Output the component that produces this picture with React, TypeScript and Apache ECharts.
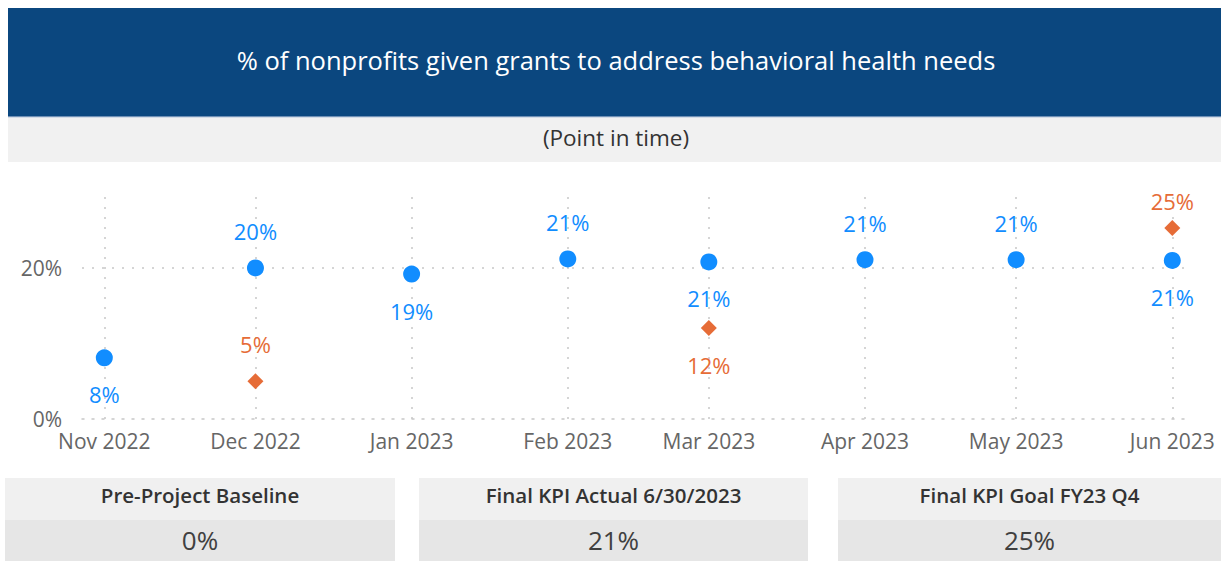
import React, { useEffect, useRef } from "react";
import * as echarts from "echarts";

const titleText = "% of nonprofits given grants to address behavioral health needs";
const subtitleText = "(Point in time)";

const months = ["2022-11-01", "2022-12-01", "2023-01-01", "2023-02-01", "2023-03-01", "2023-04-01", "2023-05-01", "2023-06-01"];
const actualValues = [8.1, 20.0, 19.2, 21.2, 20.8, 21.1, 21.1, 21.0];
const actualLabelPos = ["bottom", "top", "bottom", "top", "bottom", "top", "top", "bottom"];

const goalMonths = ["2022-12-01", "2023-03-01", "2023-06-01"];
const goalValues = [5.0, 12.05, 25.3];
const goalLabelPos = ["top", "bottom", "top"];

const yTicks = [0, 20];

const cardTitles = ["Pre-Project Baseline", "Final KPI Actual 6/30/2023", "Final KPI Goal FY23 Q4"];
const cardValues = ["0%", "21%", "25%"];

const monthNames = ["Jan", "Feb", "Mar", "Apr", "May", "Jun", "Jul", "Aug", "Sep", "Oct", "Nov", "Dec"];

const DAY = 86400000;
function toTime(s: string): number {
  const [y, m, d] = s.split("-").map(Number);
  return new Date(y, m - 1, d).getTime();
}

const FONT = "'Segoe UI', 'Open Sans', sans-serif";
const BLUE = "#118DFF";
const ORANGE = "#E66C37";

export default function App() {
  const ref = useRef<HTMLDivElement>(null);

  useEffect(() => {
    if (!ref.current) return;
    const chart = echarts.init(ref.current, undefined, { renderer: "svg" });

    const xMin = toTime(months[0]) - 4.43 * DAY;
    const xMax = toTime(months[months.length - 1]) + 3.91 * DAY;

    const cards = [
      { x: 5, w: 390 },
      { x: 419, w: 389 },
      { x: 838, w: 383 },
    ];

    const graphics: any[] = [
      { type: "rect", left: 8, top: 8, shape: { width: 1213, height: 109 }, style: { fill: "#0B477F" }, z: 0 },
      { type: "rect", left: 8, top: 116, shape: { width: 1213, height: 1.5 }, style: { fill: "#6F90B6" }, z: 0 },
      { type: "rect", left: 8, top: 117.5, shape: { width: 1213, height: 44.5 }, style: { fill: "#F1F1F1" }, z: 0 },
      {
        type: "text", x: 616, y: 60, z: 2,
        style: { text: titleText, fill: "#FFFFFF", font: `25.5px ${FONT}`, align: "center", verticalAlign: "middle" },
      },
      {
        type: "text", x: 616, y: 137, z: 2,
        style: { text: subtitleText, fill: "#333333", font: `22.5px ${FONT}`, align: "center", verticalAlign: "middle" },
      },
    ];
    cards.forEach((c, i) => {
      graphics.push({ type: "rect", left: c.x, top: 478, shape: { width: c.w, height: 42 }, style: { fill: "#F0F0F0" }, z: 0 });
      graphics.push({ type: "rect", left: c.x, top: 520, shape: { width: c.w, height: 41 }, style: { fill: "#E6E6E6" }, z: 0 });
      graphics.push({
        type: "text", x: c.x + c.w / 2, y: 495, z: 2,
        style: { text: cardTitles[i], fill: "#333333", font: `600 20.5px ${FONT}`, align: "center", verticalAlign: "middle" },
      });
      graphics.push({
        type: "text", x: c.x + c.w / 2, y: 540, z: 2,
        style: { text: cardValues[i], fill: "#404040", font: `26px ${FONT}`, align: "center", verticalAlign: "middle" },
      });
    });

    const dotted = { color: "#C8C8C8", width: 1.5, type: [2, 8] as any };

    chart.setOption({
      animation: false,
      backgroundColor: "#FFFFFF",
      textStyle: { fontFamily: FONT },
      grid: { left: 82, right: 29, top: 197, bottom: 142, containLabel: false },
      xAxis: {
        type: "time",
        min: xMin,
        max: xMax,
        minInterval: 28 * DAY,
        maxInterval: 31 * DAY,
        splitNumber: 8,
        axisLine: { show: true, lineStyle: dotted },
        axisTick: { show: false },
        splitLine: { show: true, showMinLine: false, showMaxLine: false, lineStyle: dotted },
        axisLabel: {
          color: "#666666",
          fontSize: 21,
          margin: 11,
          showMinLabel: true,
          showMaxLabel: true,
          formatter: (v: number) => {
            const d = new Date(v);
            if (d.getDate() !== 1 || d.getHours() !== 0 || d.getMinutes() !== 0) return "";
            return monthNames[d.getMonth()] + " " + d.getFullYear();
          },
        },
      },
      yAxis: {
        type: "value",
        min: yTicks[0],
        max: 29.4,
        interval: yTicks[1] - yTicks[0],
        axisLine: { show: false },
        axisTick: { show: false },
        splitLine: { show: true, showMinLine: false, showMaxLine: false, lineStyle: dotted },
        axisLabel: {
          color: "#666666",
          fontSize: 21,
          margin: 20,
          showMaxLabel: false,
          formatter: (v: number) => (yTicks.includes(v) ? v + "%" : ""),
        },
      },
      series: [
        {
          name: "Actual",
          type: "scatter",
          symbol: "circle",
          symbolSize: 17,
          itemStyle: { color: BLUE, opacity: 1 },
          label: {
            show: true,
            color: BLUE,
            fontSize: 22,
            distance: 17,
            formatter: (p: any) => Math.round(p.value[1]) + "%",
          },
          data: months.map((m, i) => ({
            value: [toTime(m), actualValues[i]],
            label: { position: actualLabelPos[i] },
          })),
          z: 3,
        },
        {
          name: "Goal",
          type: "scatter",
          symbol: "diamond",
          symbolSize: 16,
          itemStyle: { color: ORANGE, opacity: 1 },
          label: {
            show: true,
            color: ORANGE,
            fontSize: 22,
            distance: 18,
            formatter: (p: any) => Math.round(p.value[1]) + "%",
          },
          data: goalMonths.map((m, i) => ({
            value: [toTime(m), goalValues[i]],
            label: { position: goalLabelPos[i], distance: i === 2 ? 8 : 18 },
          })),
          z: 4,
        },
      ],
      graphic: graphics,
    });

    return () => chart.dispose();
  }, []);

  return (
    <div
      ref={ref}
      style={{ position: "absolute", left: 0, top: 0, width: 1221, height: 561, background: "#FFFFFF" }}
    />
  );
}
